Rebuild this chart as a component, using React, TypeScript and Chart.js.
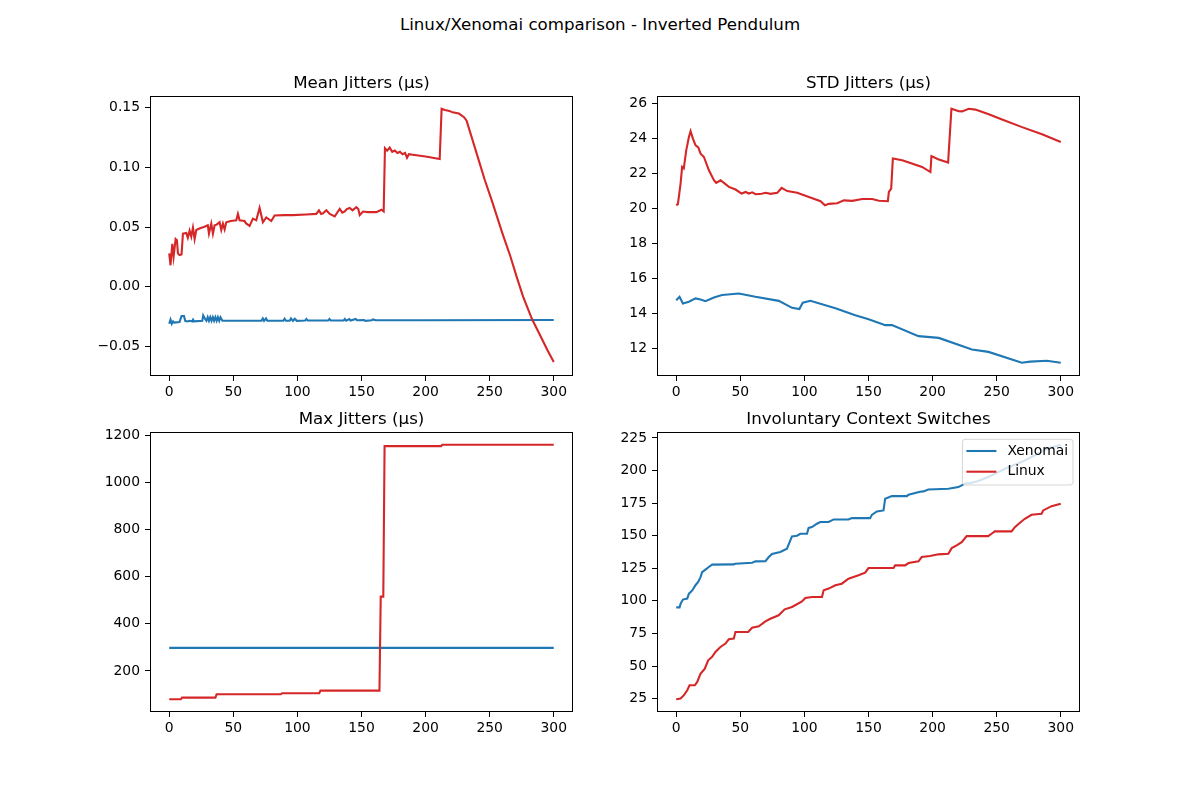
import { useEffect, useRef } from 'react';
import { Chart, registerables } from 'chart.js';

Chart.register(...registerables);

const BLUE = '#1f77b4';
const RED = '#d62728';
const FONT = "'DejaVu Sans', sans-serif";

// x axis (sample index) shared by all panels
const xTicks = [0, 50, 100, 150, 200, 250, 300];

// Mean jitters (us)
const meanLinux: [number, number][] = [
  [0, 0.028], [1, 0.018], [2.4, 0.036], [3.4, 0.025], [5, 0.040], [6, 0.039], [6.8, 0.028], [8, 0.0265],
  [9.6, 0.027], [10.7, 0.0445], [13.3, 0.045], [14.5, 0.041], [15.9, 0.047], [17.2, 0.042], [18.5, 0.0495],
  [19.8, 0.040], [21.1, 0.0475], [24, 0.049], [27, 0.050], [30.1, 0.0514], [31, 0.0445], [32.8, 0.0528],
  [34.1, 0.0445], [35.4, 0.0514], [37, 0.052], [39.3, 0.0541], [40.6, 0.0475], [41.9, 0.0528], [43.2, 0.048],
  [44.5, 0.054], [48, 0.055], [52.3, 0.0556], [53.6, 0.061], [54.9, 0.0556], [58.8, 0.055], [60, 0.053],
  [62.7, 0.051], [65.3, 0.057], [67.9, 0.0556], [70.5, 0.066], [73.1, 0.054], [75.7, 0.058], [79.6, 0.055],
  [82.2, 0.0597], [90, 0.060], [96.5, 0.060], [106.9, 0.0605], [114.7, 0.061], [116.8, 0.064], [118.5, 0.061],
  [120, 0.0615], [122.6, 0.064], [125.2, 0.061], [129.1, 0.0589], [131, 0.062], [133, 0.0652], [135, 0.062],
  [136.9, 0.063], [138.5, 0.065], [140.8, 0.066], [143, 0.064], [146, 0.0666], [147.5, 0.065], [148.6, 0.060],
  [151.2, 0.063], [155, 0.0625], [161.6, 0.0625], [165.5, 0.0645], [167.3, 0.063], [168.3, 0.116], [170, 0.114],
  [172, 0.1165], [174, 0.113], [176, 0.114], [178, 0.112], [180, 0.113], [182, 0.111], [184, 0.112],
  [185.5, 0.108], [187, 0.111], [190, 0.1105], [200, 0.109], [211, 0.107], [212.5, 0.149], [215, 0.148],
  [217, 0.1475], [219, 0.147], [221, 0.146], [226, 0.145], [230, 0.142], [232, 0.139], [240, 0.111],
  [246, 0.090], [252, 0.071], [260, 0.0445], [266, 0.026], [271, 0.0085], [276, -0.008], [283, -0.027],
  [290, -0.042], [295, -0.053], [300, -0.063],
];
const meanXenomai: [number, number][] = [
  [0, -0.031], [1, -0.0275], [2, -0.031], [3, -0.029], [4, -0.030], [8, -0.0295], [9.6, -0.0245],
  [11.5, -0.0245], [12.5, -0.0285], [14, -0.029], [16, -0.0285], [18, -0.029], [18.6, -0.0275], [19.5, -0.029],
  [25.8, -0.0285], [26.5, -0.024], [28, -0.027], [29, -0.0285], [30, -0.0255], [31, -0.0285], [32, -0.0255],
  [33, -0.0285], [34, -0.0255], [35, -0.0285], [36, -0.0255], [37, -0.0285], [38, -0.0255], [39, -0.0285],
  [40, -0.0255], [41.5, -0.0285], [72, -0.0285], [73, -0.0265], [74, -0.0285], [75.5, -0.0265], [76.5, -0.0285],
  [89, -0.0285], [90, -0.0268], [91, -0.0285], [94, -0.0285], [95, -0.0265], [96.5, -0.0285], [98, -0.0268],
  [99.5, -0.0285], [106, -0.0283], [107, -0.027], [108, -0.0283], [124, -0.0283], [125, -0.027],
  [126, -0.0283], [136, -0.0283], [137, -0.027], [138, -0.0283], [140.5, -0.027], [141.5, -0.0283],
  [145.5, -0.027], [146.5, -0.028], [152, -0.0278], [153, -0.0285], [158, -0.028], [159, -0.0273],
  [161, -0.028], [200, -0.028], [300, -0.0278],
];
const meanTicks = [-0.05, 0, 0.05, 0.1, 0.15];

// STD jitters (us)
const stdLinux: [number, number][] = [
  [0, 20.19], [1.3, 20.25], [3.4, 21.43], [4.6, 22.38], [5.9, 22.3], [7.8, 23.33], [9.9, 24.09], [11.2, 24.43],
  [13, 24.0], [15.1, 23.62], [17.2, 23.5], [19, 23.14], [21.6, 22.95], [25.5, 22.19], [29.4, 21.62],
  [31.2, 21.47], [34.6, 21.62], [37.2, 21.47], [41.1, 21.24], [46.3, 21.09], [51, 20.86], [54.1, 20.95],
  [56.7, 20.86], [59.3, 20.93], [61.9, 20.82], [66.6, 20.85], [69.7, 20.9], [73.6, 20.84], [78.8, 20.9],
  [82.2, 21.18], [86.6, 21.0], [94.4, 20.9], [103.5, 20.66], [112.6, 20.42], [116, 20.19], [119.1, 20.27],
  [125.6, 20.3], [130.8, 20.47], [137.3, 20.44], [145.1, 20.55], [152.9, 20.55], [158.1, 20.45],
  [165.1, 20.42], [165.9, 20.95], [167.7, 21.14], [169, 22.86], [176.3, 22.76], [191.8, 22.38],
  [198.3, 22.09], [199.1, 23.0], [204.3, 22.82], [212.1, 22.63], [214.7, 25.71], [220.4, 25.57],
  [223, 25.56], [228.2, 25.71], [233.4, 25.66], [243.8, 25.39], [254.2, 25.09], [269.8, 24.66],
  [285.4, 24.25], [300, 23.81],
];
const stdXenomai: [number, number][] = [
  [0, 14.76], [2.6, 14.95], [5.2, 14.57], [9.9, 14.67], [15.1, 14.86], [19, 14.8], [22.8, 14.7],
  [29.4, 14.91], [35.8, 15.05], [48.8, 15.14], [61.8, 14.95], [80, 14.72], [90.4, 14.32], [96.1, 14.25],
  [98.7, 14.61], [104.7, 14.72], [124.2, 14.29], [139.7, 13.9], [150.1, 13.67], [163.1, 13.33],
  [168.3, 13.33], [189, 12.7], [204.8, 12.6], [230.7, 11.94], [243.6, 11.8], [269.6, 11.18],
  [276.1, 11.24], [289.1, 11.29], [300, 11.18],
];
const stdTicks = [12, 14, 16, 18, 20, 22, 24, 26];

// Max jitters (us)
const maxLinux: [number, number][] = [
  [0, 80], [9, 80], [10, 87], [36, 87], [37, 101], [87, 101], [88, 105.5], [117, 105.5], [118, 116.5],
  [164, 116.5], [165, 515], [167, 515], [168, 1153], [212, 1153], [213, 1159], [300, 1159],
];
const maxXenomai: [number, number][] = [[0, 298], [300, 298]];
const maxTicks = [200, 400, 600, 800, 1000, 1200];

// Involuntary context switches
const icsXenomai: [number, number][] = [
  [0, 95], [2.6, 95], [3.5, 98], [5.2, 101], [8.6, 101.7], [9.9, 105.5], [12.5, 108], [15, 112], [17.1, 114.5],
  [18.9, 118], [20.2, 122], [22.8, 124], [25.4, 126], [28, 127.8], [44.9, 128], [46, 128.5], [59.2, 129.3],
  [61.8, 130.3], [69.6, 130.5], [72.2, 133.6], [74.7, 136], [81.2, 137.5], [86.4, 140], [89, 146.4],
  [90.3, 149.5], [94.2, 150], [96.8, 151.5], [102, 151.5], [103.3, 156], [105.9, 156.6], [109.8, 159.2],
  [112.4, 160.5], [118.9, 160.5], [122.8, 162.5], [134.4, 162.5], [137, 163.5], [151.3, 163.5], [152.6, 166],
  [156.5, 168.6], [161.7, 169.4], [163, 178.4], [168.2, 180.4], [179.9, 180.4], [181.2, 181.4],
  [190.2, 183.8], [192.8, 184], [196.7, 185.5], [212.3, 186], [220.1, 187.3], [225.3, 190], [230.5, 190.6],
  [235.7, 192], [243.4, 195], [256.4, 201.4], [269.4, 206.5], [282.4, 213], [290.2, 217], [300, 219.8],
];
const icsLinux: [number, number][] = [
  [0, 24.5], [3.4, 25], [6, 27.6], [8.6, 31.4], [10.4, 35.2], [14.5, 35.2], [16.4, 37.8], [18.9, 44],
  [22.3, 48], [24.9, 54.4], [28, 57], [30.6, 60.8], [34.5, 64.6], [38.4, 67.2], [41, 70.5], [44.9, 71],
  [46.2, 76.1], [56.1, 76.1], [59.2, 79.4], [64.4, 80.5], [69.6, 84.3], [73.4, 86.3], [79.9, 88.9],
  [84.6, 93.5], [90.3, 95.3], [98.1, 99.6], [100.7, 102.2], [105.9, 103], [113.7, 103], [115, 108.1],
  [118.9, 109.4], [124.1, 111.9], [129.2, 113.2], [134.4, 117], [138.3, 118.3], [142.2, 119.6],
  [147.4, 121.6], [150, 125.2], [169.5, 125.2], [170.8, 127.2], [178.6, 127.2], [181.2, 129], [189, 130.3],
  [191.5, 133.6], [198, 134.4], [204.5, 135.7], [212.3, 136.2], [214.9, 140.5], [218.8, 142.6],
  [222.7, 145.1], [226.6, 149.7], [243.4, 149.7], [246, 151.5], [248.6, 153.3], [261.6, 153.3],
  [264.2, 156.6], [268.1, 160], [272, 163], [277.2, 166.1], [285, 166.9], [286.3, 169.4], [292.8, 172.7],
  [300, 174.5],
];
const icsTicks = [25, 50, 75, 100, 125, 150, 175, 200, 225];

const legendLabels = ['Xenomai', 'Linux'];
const legendColors = [BLUE, RED];

// space around the axes box inside each canvas
const PAD_L = 70;
const PAD_T = 40;
const PAD_R = 10;
const PAD_B = 35;
const AX_W = 423;
const AX_H = 280;

const minus = (s: string) => s.replace('-', '\u2212');

interface PanelProps {
  title: string;
  left: number;
  top: number;
  linux: [number, number][];
  xenomai: [number, number][];
  yMin: number;
  yMax: number;
  yTicks: number[];
  yFmt: (v: number) => string;
  legend?: boolean;
}

const Panel: React.FC<PanelProps> = ({ title, left, top, linux, xenomai, yMin, yMax, yTicks, yFmt, legend }) => {
  const chartRef = useRef<HTMLCanvasElement>(null);
  const chartInstance = useRef<Chart | null>(null);

  useEffect(() => {
    if (!chartRef.current) return;
    if (chartInstance.current) chartInstance.current.destroy();
    const ctx = chartRef.current.getContext('2d');
    if (!ctx) return;

    const decor = {
      id: 'decor',
      afterDraw(chart: Chart) {
        const c = chart.ctx;
        const a = chart.chartArea;
        c.save();
        c.strokeStyle = '#000';
        c.lineWidth = 1;
        c.strokeRect(a.left + 0.5, a.top + 0.5, a.right - a.left - 1, a.bottom - a.top - 1);
        c.fillStyle = '#000';
        c.font = `16.67px ${FONT}`;
        c.textAlign = 'center';
        c.textBaseline = 'alphabetic';
        c.fillText(title, (a.left + a.right) / 2, a.top - 8.3);
        if (legend) {
          const bw = 110.6;
          const bh = 45.7;
          const bx = a.right - 7 - bw;
          const by = a.top + 7.3;
          c.beginPath();
          c.roundRect(bx, by, bw, bh, 2.8);
          c.fillStyle = 'rgba(255,255,255,0.8)';
          c.fill();
          c.strokeStyle = 'rgba(204,204,204,0.8)';
          c.lineWidth = 1;
          c.stroke();
          legendLabels.forEach((label, i) => {
            const y = by + 11.7 + i * 20.7;
            c.strokeStyle = legendColors[i];
            c.lineWidth = 2.1;
            c.beginPath();
            c.moveTo(bx + 4, y);
            c.lineTo(bx + 34, y);
            c.stroke();
            c.fillStyle = '#000';
            c.font = `13.9px ${FONT}`;
            c.textAlign = 'left';
            c.textBaseline = 'middle';
            c.fillText(label, bx + 45, y);
          });
        }
        c.restore();
      },
    };

    const toPts = (p: [number, number][]) => p.map(([x, y]) => ({ x, y }));
    const tickFont = { family: FONT, size: 13.9 };

    chartInstance.current = new Chart(ctx, {
      type: 'line',
      data: {
        datasets: [
          { label: 'Linux', data: toPts(linux), borderColor: RED, borderWidth: 2.1, pointRadius: 0, fill: false, tension: 0 },
          { label: 'Xenomai', data: toPts(xenomai), borderColor: BLUE, borderWidth: 2.1, pointRadius: 0, fill: false, tension: 0 },
        ],
      },
      options: {
        animation: false,
        responsive: true,
        maintainAspectRatio: false,
        layout: { padding: { top: PAD_T, right: PAD_R, left: 0, bottom: 0 } },
        plugins: { legend: { display: false }, tooltip: { enabled: false } },
        scales: {
          x: {
            type: 'linear',
            min: -15,
            max: 315,
            afterFit: (s: any) => { s.height = PAD_B; },
            afterBuildTicks: (s: any) => { s.ticks = xTicks.map(v => ({ value: v })); },
            border: { display: false },
            grid: { drawOnChartArea: false, drawTicks: true, tickLength: 5, tickColor: '#000', lineWidth: 1 },
            ticks: { color: '#000', font: tickFont, padding: 3, maxRotation: 0, autoSkip: false, callback: (v: any) => String(v) },
          },
          y: {
            type: 'linear',
            min: yMin,
            max: yMax,
            afterFit: (s: any) => { s.width = PAD_L; },
            afterBuildTicks: (s: any) => { s.ticks = yTicks.map(v => ({ value: v })); },
            border: { display: false },
            grid: { drawOnChartArea: false, drawTicks: true, tickLength: 5, tickColor: '#000', lineWidth: 1 },
            ticks: { color: '#000', font: tickFont, padding: 5, autoSkip: false, callback: (v: any) => yFmt(Number(v)) },
          },
        },
      },
      plugins: [decor],
    });

    return () => {
      if (chartInstance.current) {
        chartInstance.current.destroy();
        chartInstance.current = null;
      }
    };
  }, [title, linux, xenomai, yMin, yMax, yTicks, yFmt, legend]);

  return (
    <div style={{
      position: 'absolute',
      left: left - PAD_L,
      top: top - PAD_T,
      width: AX_W + PAD_L + PAD_R,
      height: AX_H + PAD_T + PAD_B,
    }}>
      <canvas ref={chartRef} />
    </div>
  );
};

const fmtMean = (v: number) => minus(v.toFixed(2));
const fmtInt = (v: number) => String(Math.round(v));

export default function App() {
  return (
    <div style={{ position: 'absolute', left: 0, top: 0, width: 1200, height: 800, background: '#fff', fontFamily: FONT }}>
      <div style={{
        position: 'absolute', left: 0, top: 15, width: 1200, textAlign: 'center',
        fontSize: '16.67px', lineHeight: '20px', color: '#000',
      }}>
        Linux/Xenomai comparison - Inverted Pendulum
      </div>
      <Panel title="Mean Jitters (µs)" left={150} top={96} linux={meanLinux} xenomai={meanXenomai}
        yMin={-0.0747} yMax={0.1597} yTicks={meanTicks} yFmt={fmtMean} />
      <Panel title="STD Jitters (µs)" left={657} top={96} linux={stdLinux} xenomai={stdXenomai}
        yMin={10.42} yMax={26.44} yTicks={stdTicks} yFmt={fmtInt} />
      <Panel title="Max Jitters (µs)" left={150} top={432} linux={maxLinux} xenomai={maxXenomai}
        yMin={26.05} yMax={1212.95} yTicks={maxTicks} yFmt={fmtInt} />
      <Panel title="Involuntary Context Switches" left={657} top={432} linux={icsLinux} xenomai={icsXenomai}
        yMin={14.7} yMax={229.6} yTicks={icsTicks} yFmt={fmtInt} legend />
    </div>
  );
}
